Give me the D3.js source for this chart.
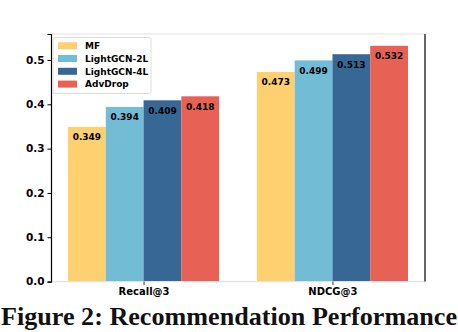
<!DOCTYPE html>
<html>
<head>
<meta charset="utf-8">
<script src="https://cdn.jsdelivr.net/npm/d3@7"></script>
<style>
  body { margin: 0; background: #fff; }
  svg { display: block; }
  text { font-family: "DejaVu Sans", sans-serif; font-weight: bold; }
</style>
</head>
<body>
<div id="chart"></div>
<script>
// data
var metrics = ["Recall@3", "NDCG@3"];
var models = ["MF", "LightGCN-2L", "LightGCN-4L", "AdvDrop"];
var mfValues = [0.349, 0.473];
var lgcn2Values = [0.394, 0.499];
var lgcn4Values = [0.409, 0.513];
var advDropValues = [0.418, 0.532];
var yTicks = [0.0, 0.1, 0.2, 0.3, 0.4, 0.5];
var colors = ["#ffd06f", "#72bcd5", "#376795", "#e76254"];

var series = [mfValues, lgcn2Values, lgcn4Values, advDropValues];

var width = 458, height = 332,
    margin = { top: 34, right: 33, bottom: 50.4, left: 51 },
    innerWidth = width - margin.left - margin.right,
    innerHeight = height - margin.top - margin.bottom;

var barW = 0.2;

var xScale = d3.scaleLinear()
    .domain([-0.49, metrics.length - 1 + 0.49])
    .range([0, innerWidth]);
var yScale = d3.scaleLinear()
    .domain([0, 0.5586])
    .range([innerHeight, 0]);

var svg = d3.select("#chart").append("svg")
    .attr("width", width)
    .attr("height", height);

var g = svg.append("g")
    .attr("transform", "translate(" + margin.left + "," + margin.top + ")");

// bars
var rows = [];
series.forEach(function (vals, s) {
    vals.forEach(function (v, m) {
        rows.push({ s: s, m: m, v: v });
    });
});

g.selectAll(".bar")
    .data(rows)
  .enter().append("rect")
    .attr("class", "bar")
    .attr("x", function (d) { return xScale(d.m + (d.s - 1.5) * barW - barW / 2); })
    .attr("y", function (d) { return yScale(d.v); })
    .attr("width", xScale(barW) - xScale(0))
    .attr("height", function (d) { return innerHeight - yScale(d.v); })
    .attr("fill", function (d) { return colors[d.s]; });

g.selectAll(".val")
    .data(rows)
  .enter().append("text")
    .attr("class", "val")
    .attr("x", function (d) { return xScale(d.m + (d.s - 1.5) * barW); })
    .attr("y", function (d) { return yScale(d.v) + 13.3; })
    .attr("text-anchor", "middle")
    .style("font-size", "9px")
    .attr("fill", "#000")
    .text(function (d) { return d3.format(".3f")(d.v); });

// spines
g.append("line").attr("x1", 0).attr("x2", innerWidth).attr("y1", 0).attr("y2", 0)
    .attr("stroke", "#e3e3e3").attr("stroke-width", 1.2);
g.append("line").attr("x1", 0).attr("x2", innerWidth).attr("y1", innerHeight).attr("y2", innerHeight)
    .attr("stroke", "#e3e3e3").attr("stroke-width", 1.2);

// y axis
var yAxis = g.append("g")
    .call(d3.axisLeft(yScale).tickValues(yTicks).tickFormat(d3.format(".1f")).tickSize(3.5).tickPadding(3));
yAxis.select(".domain").attr("stroke", "#000").attr("stroke-width", 1.2);
yAxis.selectAll("text").style("font-size", "10.5px").attr("fill", "#000");

// right spine
g.append("line").attr("x1", innerWidth).attr("x2", innerWidth).attr("y1", 0).attr("y2", innerHeight)
    .attr("stroke", "#000").attr("stroke-width", 1.2);

// x axis
var xAxis = g.append("g")
    .attr("transform", "translate(0," + innerHeight + ")")
    .call(d3.axisBottom(xScale).tickValues(d3.range(metrics.length))
        .tickFormat(function (i) { return metrics[i]; }).tickSize(3.5).tickPadding(2.5));
xAxis.select(".domain").remove();
xAxis.selectAll("line").attr("stroke", "#333");
xAxis.selectAll("text").style("font-size", "10px").attr("fill", "#000");

// legend
var legend = g.append("g").attr("transform", "translate(2,3.5)");
legend.append("rect")
    .attr("width", 98).attr("height", 56)
    .attr("rx", 2)
    .attr("fill", "#fff").attr("fill-opacity", 0.8)
    .attr("stroke", "#dddddd").attr("stroke-width", 1);
var items = legend.selectAll(".item")
    .data(models)
  .enter().append("g")
    .attr("class", "item")
    .attr("transform", function (d, i) { return "translate(5," + (8.2 + i * 12.8) + ")"; });
items.append("rect")
    .attr("y", -3.5).attr("width", 19).attr("height", 7)
    .attr("fill", function (d, i) { return colors[i]; });
items.append("text")
    .attr("x", 27).attr("y", 3.3)
    .style("font-size", "9px")
    .attr("fill", "#000")
    .text(function (d) { return d; });

// caption
svg.append("text")
    .attr("x", 1).attr("y", 325)
    .attr("textLength", 456).attr("lengthAdjust", "spacingAndGlyphs")
    .style("font-family", "'Liberation Serif', 'DejaVu Serif', serif")
    .style("font-size", "25px")
    .attr("fill", "#111")
    .text("Figure 2: Recommendation Performance");
</script>
</body>
</html>
